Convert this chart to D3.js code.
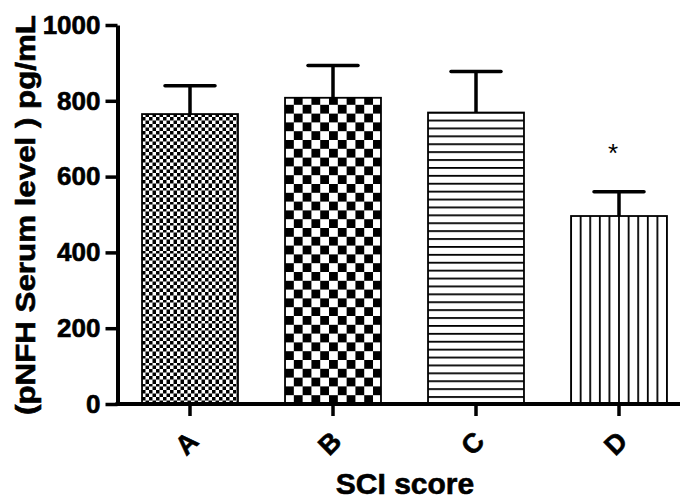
<!DOCTYPE html>
<html lang="en">
<head>
<meta charset="UTF-8">
<title>pNFH serum level by SCI score</title>
<style>
    body { margin: 0; background: #fff; }
    svg text { font-family: "Liberation Sans", Arial, sans-serif; font-weight: bold; fill: #000; }
    svg text.heavy { stroke: #000; stroke-width: 0.6px; }
</style>
</head>
<body>
<script src="https://d3js.org/d3.v7.min.js"></script>
<script>
    const categories = ["A", "B", "C", "D"];
    const means = [765, 808, 769, 496];
    const errTops = [840, 893, 877, 560];
    const yTicks = [0, 200, 400, 600, 800, 1000];
    const marks = ["", "", "", "*"];

    const width = 680;
    const height = 500;
    const axisX = 117.5;

    const svg = d3.select("body")
        .append("svg")
        .attr("width", width)
        .attr("height", height);

    const y = d3.scaleLinear()
        .domain([0, 1000])
        .range([404, 25]);

    const x = d3.scaleBand()
        .domain(categories)
        .range([118.5, 690.5])
        .paddingInner(0.329)
        .paddingOuter(0.1645);

    const bw = x.bandwidth();
    const defs = svg.append("defs");

    // A: fine checkerboard
    const pA = defs.append("pattern")
        .attr("id", "patA")
        .attr("patternUnits", "userSpaceOnUse")
        .attr("x", x("A")).attr("y", y(0))
        .attr("width", 7).attr("height", 7);
    pA.append("rect").attr("width", 7).attr("height", 7).attr("fill", "#fff");
    pA.append("rect").attr("width", 3.5).attr("height", 3.5).attr("fill", "#000");
    pA.append("rect").attr("x", 3.5).attr("y", 3.5).attr("width", 3.5).attr("height", 3.5).attr("fill", "#000");

    // B: coarse checkerboard
    const pB = defs.append("pattern")
        .attr("id", "patB")
        .attr("patternUnits", "userSpaceOnUse")
        .attr("x", x("B")).attr("y", y(0))
        .attr("width", 17.6).attr("height", 17.6);
    pB.append("rect").attr("width", 17.6).attr("height", 17.6).attr("fill", "#fff");
    pB.append("rect").attr("width", 8.8).attr("height", 8.8).attr("fill", "#000");
    pB.append("rect").attr("x", 8.8).attr("y", 8.8).attr("width", 8.8).attr("height", 8.8).attr("fill", "#000");

    // C: horizontal lines
    const pC = defs.append("pattern")
        .attr("id", "patC")
        .attr("patternUnits", "userSpaceOnUse")
        .attr("x", x("C")).attr("y", y(0))
        .attr("width", bw).attr("height", 7.9);
    pC.append("rect").attr("width", bw).attr("height", 7.9).attr("fill", "#fff");
    pC.append("rect").attr("y", 0).attr("width", bw).attr("height", 1.8).attr("fill", "#000");

    // D: vertical lines
    const dStep = bw / 10;
    const pD = defs.append("pattern")
        .attr("id", "patD")
        .attr("patternUnits", "userSpaceOnUse")
        .attr("x", x("D") - 0.9).attr("y", 0)
        .attr("width", dStep).attr("height", 10);
    pD.append("rect").attr("width", dStep).attr("height", 10).attr("fill", "#fff");
    pD.append("rect").attr("width", 1.8).attr("height", 10).attr("fill", "#000");

    const fills = {A: "url(#patA)", B: "url(#patB)", C: "url(#patC)", D: "url(#patD)"};

    const data = categories.map((c, i) => ({cat: c, mean: means[i], top: errTops[i], mark: marks[i]}));

    // error bars (drawn behind bars)
    svg.selectAll(".err")
        .data(data)
        .enter()
        .append("line")
        .attr("x1", d => x(d.cat) + bw / 2)
        .attr("x2", d => x(d.cat) + bw / 2)
        .attr("y1", d => y(d.mean))
        .attr("y2", d => y(d.top))
        .attr("stroke", "#000")
        .attr("stroke-width", 3.5);

    svg.selectAll(".cap")
        .data(data)
        .enter()
        .append("line")
        .attr("x1", d => x(d.cat) + bw / 2 - 25)
        .attr("x2", d => x(d.cat) + bw / 2 + 25)
        .attr("y1", d => y(d.top))
        .attr("y2", d => y(d.top))
        .attr("stroke", "#000")
        .attr("stroke-width", 3.5)
        .attr("stroke-linecap", "round");

    svg.selectAll(".bar")
        .data(data)
        .enter()
        .append("rect")
        .attr("x", d => x(d.cat))
        .attr("y", d => y(d.mean))
        .attr("width", bw)
        .attr("height", d => y(0) - y(d.mean))
        .attr("fill", d => fills[d.cat])
        .attr("stroke", "#000")
        .attr("stroke-width", 1.8);

    svg.selectAll(".mark")
        .data(data)
        .enter()
        .append("text")
        .attr("x", d => x(d.cat) + bw / 2 - 6)
        .attr("y", d => y(d.top) - 30)
        .attr("text-anchor", "middle")
        .style("font-weight", "normal")
        .style("font-size", "26px")
        .text(d => d.mark);

    // y axis
    const yAxis = svg.append("g")
        .attr("transform", "translate(" + axisX + ",0)")
        .call(d3.axisLeft(y).tickValues(yTicks).tickFormat(d3.format("d"))
            .tickSize(12).tickSizeOuter(0).tickPadding(5));
    yAxis.attr("font-size", null).attr("font-family", null);
    yAxis.select(".domain").attr("stroke-width", 4);
    yAxis.selectAll(".tick line").attr("stroke-width", 3.5);
    yAxis.selectAll(".tick text")
        .attr("class", "heavy")
        .style("font-size", "26px")
        .style("font-weight", "bold");

    // x axis
    const xAxis = svg.append("g")
        .attr("transform", "translate(0," + y(0) + ")")
        .call(d3.axisBottom(x).tickSize(12).tickSizeOuter(0));
    xAxis.attr("font-size", null).attr("font-family", null);
    xAxis.select(".domain").remove();
    xAxis.append("line")
        .attr("x1", axisX - 2).attr("x2", width)
        .attr("stroke", "#000")
        .attr("stroke-width", 4);
    xAxis.selectAll(".tick line").attr("stroke-width", 3.5);
    xAxis.selectAll(".tick text")
        .attr("class", "heavy")
        .style("font-size", "27px")
        .style("font-weight", "bold")
        .attr("text-anchor", "end")
        .attr("dy", null)
        .attr("y", 0)
        .attr("transform", "translate(10,39) rotate(-45)");

    // axis titles
    svg.append("text")
        .attr("class", "heavy")
        .attr("x", 405)
        .attr("y", 494)
        .attr("text-anchor", "middle")
        .style("font-size", "30px")
        .text("SCI score");

    svg.append("text")
        .attr("class", "heavy")
        .attr("transform", "translate(35,215) rotate(-90)")
        .attr("text-anchor", "middle")
        .style("font-size", "27px")
        .attr("textLength", 400)
        .attr("lengthAdjust", "spacingAndGlyphs")
        .text("(pNFH Serum level ) pg/mL");
</script>
</body>
</html>
